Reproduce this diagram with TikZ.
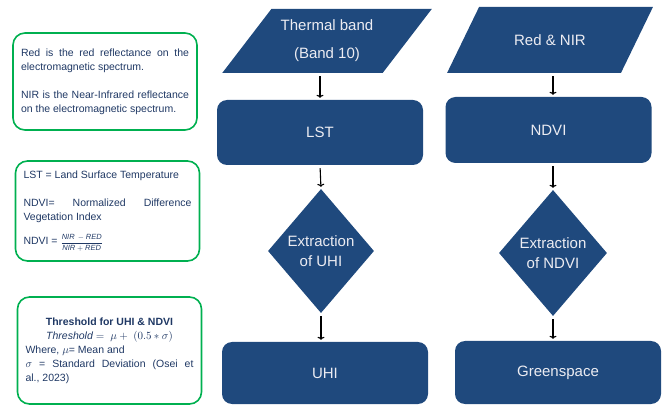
\documentclass[tikz,border=0pt]{standalone}
\usepackage{amsmath}
\usepackage{fontspec}
\setmainfont{Liberation Sans}
\usetikzlibrary{shapes.geometric,arrows.meta}

\definecolor{boxblue}{RGB}{31,73,125}
\definecolor{boxtext}{RGB}{236,236,242}
\definecolor{notegreen}{RGB}{0,176,80}
\definecolor{notetext}{RGB}{31,56,100}

\tikzset{
	inbox/.style={shape=trapezium, trapezium stretches=true, fill=boxblue, text=boxtext, font=\fontsize{15}{28}\selectfont, align=center},
	procbox/.style={rectangle, rounded corners=10pt, fill=boxblue, text=boxtext, font=\fontsize{15}{18}\selectfont, minimum width=206pt, minimum height=65pt},
	decbox/.style={diamond, fill=boxblue, text=boxtext, font=\fontsize{15}{20}\selectfont, align=center, inner sep=0pt},
	notebox/.style={rectangle, rounded corners=12pt, draw=notegreen, line width=1.6pt, text=notetext, font=\fontsize{10.5}{14}\selectfont, align=justify, text width=168pt, inner sep=8pt, execute at begin node={\hyphenpenalty=10000\relax}},
	flow/.style={line width=1.1pt, -{To[length=3pt,width=7pt]}, shorten <=3pt, shorten >=2pt}
}

\begin{document}
\begin{tikzpicture}[x=1pt, y=-1pt]
		\useasboundingbox (0,0) rectangle (662,406);
		
		\node[notebox, minimum height=97pt] (note1) at (105,81.5) {Red is the red reflectance on the electromagnetic spectrum.\par\vspace{14pt}
			NIR is the Near-Infrared reflectance on the electromagnetic spectrum.};
		\node[notebox, minimum height=100pt] (note2) at (107.5,211) {LST = Land Surface Temperature\par\vspace{14pt}
			NDVI= Normalized Difference Vegetation Index\par\vspace{10pt}
			NDVI =\;{\fontsize{7.5}{9}\selectfont$\dfrac{\mathit{NIR}\,-\mathit{RED}}{\mathit{NIR}+\mathit{RED}}$}};
		\node[notebox, minimum height=107pt] (note3) at (109.5,350.5) {{\centering\bfseries Threshold for UHI \& NDVI\par}
			{\centering $\mathit{Threshold} = \ \mu + \ (0.5 * \sigma)$\par}
			Where, $\mu$= Mean and\\
			\ $\sigma$ = Standard Deviation (Osei et\linebreak al., 2023)};
		
		\node[inbox, trapezium left angle=48, trapezium right angle=132, minimum width=210pt, minimum height=64pt] (thermal) at (327,41) {Thermal band\\(Band 10)};
		\node[procbox] (lst) at (320,132.5) {LST};
		\node[decbox, minimum width=106pt, minimum height=124pt] (exuhi) at (321,251) {Extraction\\of UHI};
		\node[procbox, minimum height=62pt] (uhi) at (325,373) {UHI};
		
		\node[inbox, trapezium left angle=45, trapezium right angle=135, minimum width=206pt, minimum height=66pt] (rednir) at (550,40) {Red \& NIR};
		\node[procbox, minimum height=66pt] (ndvi) at (548.5,130) {NDVI};
		\node[decbox, minimum width=108pt, minimum height=126pt] (exndvi) at (553,253) {Extraction\\of NDVI};
		\node[procbox, minimum height=63pt] (green) at (558,372.5) {Greenspace};
		
		\draw [flow] (thermal.south -| lst.north) -- (lst.north);
		\draw [flow] (lst.south) -- (exuhi.north);
		\draw [flow] (exuhi.south) -- (exuhi.south |- uhi.north);
		
		\draw [flow] (rednir.south -| exndvi.north) -- (exndvi.north |- ndvi.north);
		\draw [flow] (exndvi.north |- ndvi.south) -- (exndvi.north);
		\draw [flow] (exndvi.south) -- (exndvi.south |- green.north);
\end{tikzpicture}
\end{document}
